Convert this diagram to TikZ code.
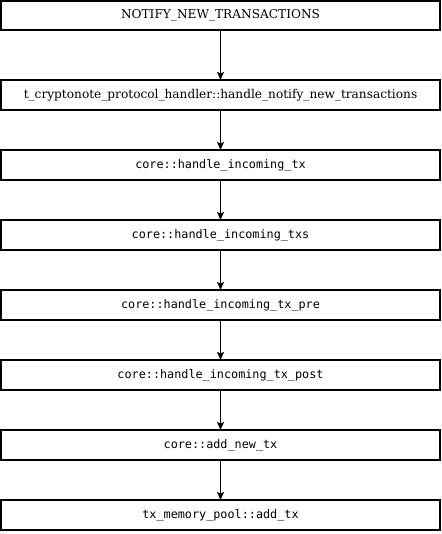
\documentclass[tikz,border=0pt]{standalone}
\usepackage{fontspec}
\setmainfont{DejaVu Serif}
\setmonofont{DejaVu Sans Mono}
\usetikzlibrary{arrows.meta, shapes}

\begin{document}
\begin{tikzpicture}[x=1pt, y=1pt, line width=1.1pt]
    \tikzstyle{every node} = [shape=rectangle, draw, minimum width=439pt, minimum height=30pt, inner sep=0pt, outer sep=0pt]
    \tikzstyle{call} = [font=\fontsize{11.8}{13}\ttfamily]
    \tikzstyle{msg} = [font=\fontsize{12.15}{14}\rmfamily]
    \useasboundingbox (0,0) rectangle (441,-534);
    \node (notify) [msg, minimum height=29pt] at (220.5, -15.5) {NOTIFY\_NEW\_TRANSACTIONS};
    \node (handler) [msg] at (220.5, -95) {t\_cryptonote\_protocol\_handler::handle\_notify\_new\_transactions};
    \node (tx) [call] at (220.5, -165) {core::handle\_incoming\_tx};
    \node (txs) [call] at (220.5, -235) {core::handle\_incoming\_txs};
    \node (pre) [call] at (220.5, -305) {core::handle\_incoming\_tx\_pre};
    \node (post) [call] at (220.5, -375) {core::handle\_incoming\_tx\_post};
    \node (addnew) [call] at (220.5, -445) {core::add\_new\_tx};
    \node (pool) [call] at (220.5, -515) {tx\_memory\_pool::add\_tx};
      \draw [-{Stealth[length=8pt, width=7pt, inset=1.5pt]}] (notify) -- (handler);
      \draw [-{Stealth[length=8pt, width=7pt, inset=1.5pt]}] (handler) -- (tx);
      \draw [-{Stealth[length=8pt, width=7pt, inset=1.5pt]}] (tx) -- (txs);
      \draw [-{Stealth[length=8pt, width=7pt, inset=1.5pt]}] (txs) -- (pre);
      \draw [-{Stealth[length=8pt, width=7pt, inset=1.5pt]}] (pre) -- (post);
      \draw [-{Stealth[length=8pt, width=7pt, inset=1.5pt]}] (post) -- (addnew);
      \draw [-{Stealth[length=8pt, width=7pt, inset=1.5pt]}] (addnew) -- (pool);
  \end{tikzpicture}
\end{document}
